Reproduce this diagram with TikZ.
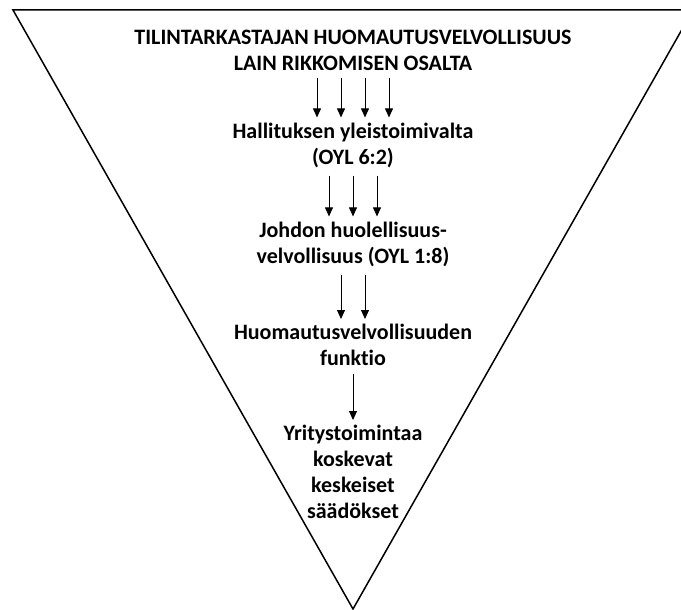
\documentclass[tikz,border=0pt]{standalone}
\usepackage{fontspec}
\setmainfont{Carlito}[Ligatures=NoCommon]
\usetikzlibrary{arrows.meta}

\begin{document}
\begin{tikzpicture}[x=1pt,y=-1pt,
  lbl/.style={font=\fontsize{22}{26}\selectfont\bfseries,align=center,inner sep=0pt},
  arr/.style={-{Triangle[length=9pt,width=8pt]},line width=0.9pt,shorten <=8pt,shorten >=5pt}]
\useasboundingbox (0,0) rectangle (681,610);
\clip (0,0) rectangle (681,610);
\draw[line width=1.5pt] (13,10) -- (693,10) -- (353,609) -- cycle;
\node[lbl] (title) at (353,50) {TILINTARKASTAJAN HUOMAUTUSVELVOLLISUUS\\LAIN RIKKOMISEN OSALTA};
\node[lbl] (hall) at (353,145) {Hallituksen yleistoimivalta\\(OYL 6:2)};
\node[lbl] (johdon) at (353,244) {Johdon huolellisuus-\\velvollisuus (OYL 1:8)};
\node[lbl] (huom) at (353,345) {Huomautusvelvollisuuden\\funktio};
\node[lbl] (yrit) at (353,472) {Yritystoimintaa\\koskevat\\keskeiset\\säädökset};
\foreach \dx in {-36,-12,12,36}
  \draw[arr] ([xshift=\dx]title.south) -- ([xshift=\dx]hall.north);
\foreach \dx in {-24,0,24}
  \draw[arr] ([xshift=\dx]hall.south) -- ([xshift=\dx]johdon.north);
\foreach \dx in {-12,12}
  \draw[arr] ([xshift=\dx]johdon.south) -- ([xshift=\dx]huom.north);
\draw[arr] (huom) -- (yrit);
\end{tikzpicture}
\end{document}
